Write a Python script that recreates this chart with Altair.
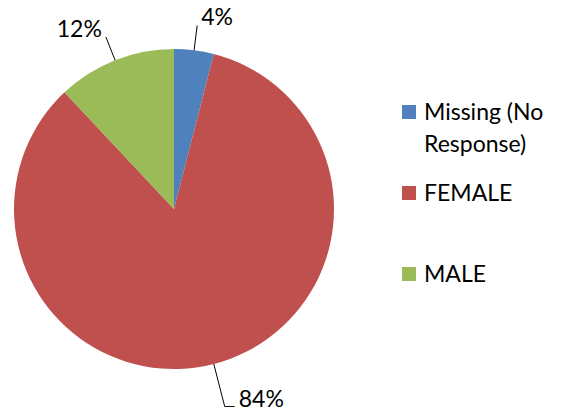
import altair as alt
import pandas as pd
import numpy as np

# ---- data ----
categories = ["Missing (No Response)", "FEMALE", "MALE"]
values = [4, 84, 12]
pct_labels = ["4%", "84%", "12%"]
legend_labels = ["Missing (No\nResponse)", "FEMALE", "MALE"]
colors = ["#4F81BD", "#C0504D", "#9BBB59"]

# ---- layout (pixels inside the drawing area; page = plot + (8, 16)) ----
W, H = 550, 391
CX, CY, R = 166, 193, 160
leader_len = [25, 44, 25]
leader_tail = [0, 10, 0]
FONT = "Lato"

df = pd.DataFrame({"cat": categories, "val": values, "lab": pct_labels,
                   "leg": legend_labels, "idx": range(len(categories))})

# geometry of leader lines, derived from the slice values
frac = np.array(values, dtype=float) / sum(values)
ends = np.cumsum(frac)
starts = ends - frac
mid = (starts + ends) / 2 * 2 * np.pi
s, c = np.sin(mid), np.cos(mid)
x0 = CX + R * s
y0 = CY - R * c
r1 = R + np.array(leader_len)
x1 = CX + r1 * s
y1 = CY - r1 * c
side = np.sign(s)
x2 = x1 + side * np.array(leader_tail)
y2 = y1

lines = []
for i, cat in enumerate(categories):
    lines += [{"cat": cat, "o": 0, "x": x0[i], "y": y0[i]},
              {"cat": cat, "o": 1, "x": x1[i], "y": y1[i]},
              {"cat": cat, "o": 2, "x": x2[i], "y": y2[i]}]
lines_df = pd.DataFrame(lines)

df["tx"] = x2 + side * 4
df["ty"] = y2
df["side"] = np.where(side > 0, "right", "left")

# legend positions
df["lx"] = 401
df["ly"] = 96 + 81 * df["idx"]
df["ltx"] = 416
df["lty"] = df["ly"] + 8

xs = alt.Scale(domain=[0, W], nice=False, zero=False)
ys = alt.Scale(domain=[H, 0], nice=False, zero=False)
color = alt.Color("cat:N", scale=alt.Scale(domain=categories, range=colors), legend=None)

pie = alt.Chart(df).mark_arc(radius=R).encode(
    theta=alt.Theta("val:Q", stack=True),
    order=alt.Order("idx:O"),
    color=color,
    x=alt.value(CX), y=alt.value(CY),
)

leaders = alt.Chart(lines_df).mark_line(color="black", strokeWidth=1).encode(
    x=alt.X("x:Q", scale=xs, axis=None),
    y=alt.Y("y:Q", scale=ys, axis=None),
    detail="cat:N",
    order="o:Q",
)

txt_r = alt.Chart(df).transform_filter(alt.datum.side == "right").mark_text(
    align="left", baseline="alphabetic", font=FONT, fontSize=23, color="black"
).encode(x=alt.X("tx:Q", scale=xs, axis=None), y=alt.Y("ty:Q", scale=ys, axis=None), text="lab:N")

txt_l = alt.Chart(df).transform_filter(alt.datum.side == "left").mark_text(
    align="right", baseline="alphabetic", font=FONT, fontSize=23, color="black"
).encode(x=alt.X("tx:Q", scale=xs, axis=None), y=alt.Y("ty:Q", scale=ys, axis=None), text="lab:N")

leg_sq = alt.Chart(df).mark_square(size=196, opacity=1).encode(
    x=alt.X("lx:Q", scale=xs, axis=None), y=alt.Y("ly:Q", scale=ys, axis=None), color=color
)
leg_txt = alt.Chart(df).mark_text(
    align="left", baseline="alphabetic", font=FONT, fontSize=23, color="black",
    lineBreak="\n", lineHeight=32
).encode(x=alt.X("ltx:Q", scale=xs, axis=None), y=alt.Y("lty:Q", scale=ys, axis=None), text="leg:N")

chart = alt.layer(pie, leaders, txt_r, txt_l, leg_sq, leg_txt).properties(
    width=W, height=H, background="white",
    padding={"left": 0, "top": 8, "right": 0, "bottom": 0},
    autosize=alt.AutoSizeParams(type="none")
).configure_view(stroke=None)

chart.save("out.html", embed_options={"renderer": "svg", "actions": False})
